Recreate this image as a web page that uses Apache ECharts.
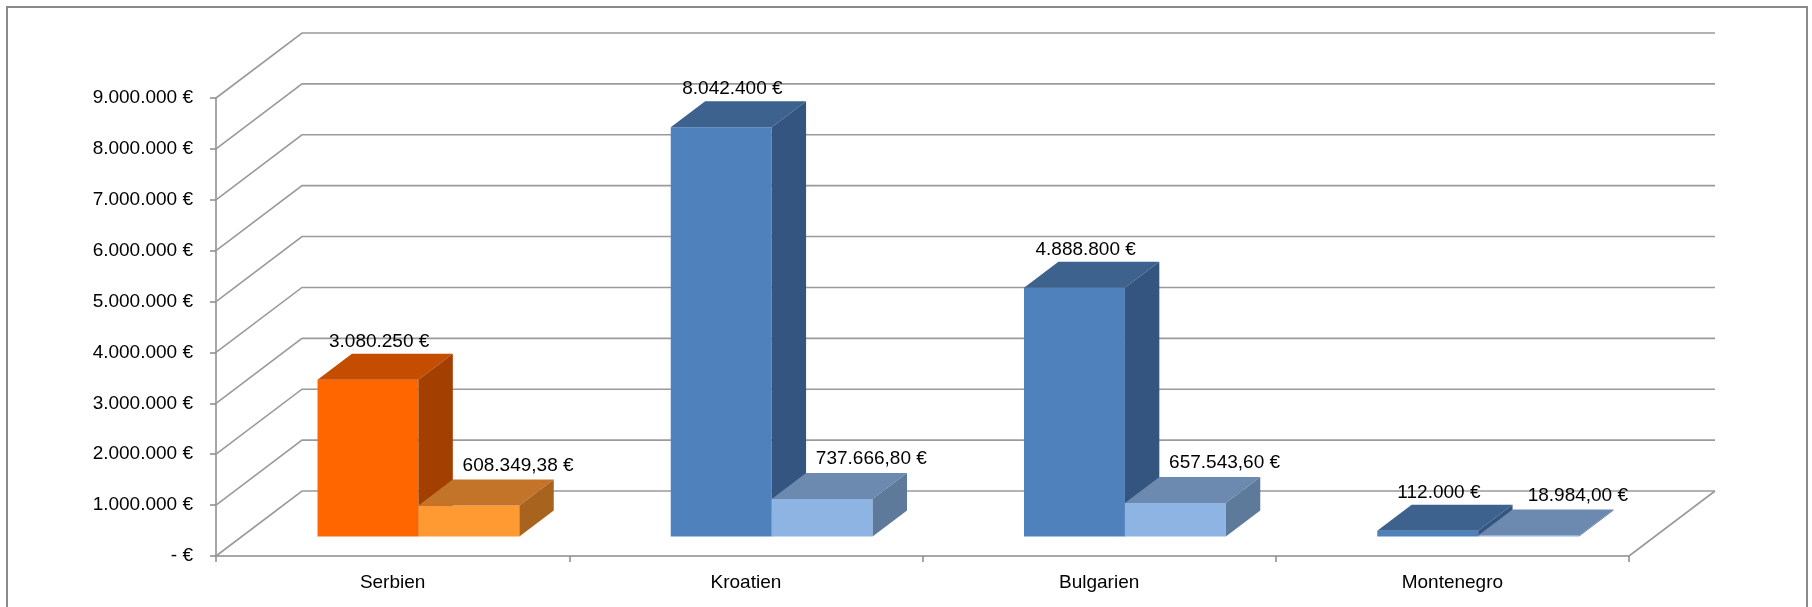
<!DOCTYPE html>
<html>
<head>
<meta charset="utf-8">
<script src="https://cdn.jsdelivr.net/npm/echarts@6/dist/echarts.min.js"></script>
<style>
  html, body { margin: 0; padding: 0; background: #fff; }
  #wrap { position: relative; width: 1812px; height: 607px; overflow: hidden; }
  #chart { position: absolute; left: 0; top: 0; width: 1812px; height: 607px; }
  #frame { position: absolute; left: 6px; top: 6px; width: 1798px; height: 640px;
           border: 2px solid #8a8a8a; pointer-events: none; }
</style>
</head>
<body>
<div id="wrap">
  <div id="chart"></div>
  <div id="frame"></div>
</div>
<script>
// Categories and the two values per country
const categories = ['Serbien', 'Kroatien', 'Bulgarien', 'Montenegro'];
const totalValues = [3080250, 8042400, 4888800, 112000];
const shareValues = [608349.38, 737666.80, 657543.60, 18984.00];

// Value axis ticks and their labels
const yTicks = [0, 1000000, 2000000, 3000000, 4000000, 5000000, 6000000, 7000000, 8000000, 9000000];
const yTickLabels = ['- €', '1.000.000 €', '2.000.000 €', '3.000.000 €', '4.000.000 €',
                     '5.000.000 €', '6.000.000 €', '7.000.000 €', '8.000.000 €', '9.000.000 €'];

// Oblique projection: offset of the back wall relative to the front plane (px)
const DEPTH_X = 86;
const DEPTH_Y = 65;
const BAR_FRONT = 0.3;   // bars start at 30% of the floor depth
const BAR_BACK = 0.7;    // and end at 70%

const FONT = '"Liberation Sans", Arial, sans-serif';
const FONT_SIZE = 19;

// Face colours: [front, top, side] for each series
const bluePalette = [
  { front: '#4F81BD', top: '#3D628E', side: '#33557F' },
  { front: '#8DB4E2', top: '#6C8AAF', side: '#5D7A9B' }
];
const orangePalette = [
  { front: '#FF6600', top: '#C44D00', side: '#A33F00' },
  { front: '#FF9A33', top: '#C37428', side: '#A8641F' }
];
const highlightCategory = 'Serbien';

function formatEuro(v, decimals) {
  const fixed = Math.abs(v).toFixed(decimals);
  const parts = fixed.split('.');
  const intPart = parts[0].replace(/\B(?=(\d{3})+(?!\d))/g, '.');
  return intPart + (decimals > 0 ? ',' + parts[1] : '') + ' €';
}

function barRenderer(seriesIdx, decimals, labelShift, labelLift) {
  return function (params, api) {
    const i = api.value(0);
    const v = api.value(1);
    const catW = api.size([1, 0])[0];
    const w = catW / 3.5;
    const base = api.coord([i, 0]);
    const topPt = api.coord([i, v]);
    const cx = base[0];
    const y0 = base[1];
    const yT = topPt[1];
    const L = seriesIdx === 0 ? cx - w : cx;
    const d0x = DEPTH_X * BAR_FRONT, d0y = -DEPTH_Y * BAR_FRONT;
    const d1x = DEPTH_X * BAR_BACK, d1y = -DEPTH_Y * BAR_BACK;
    const pal = (categories[i] === highlightCategory ? orangePalette : bluePalette)[seriesIdx];

    const front = {
      type: 'rect',
      shape: { x: L + d0x, y: yT + d0y, width: w, height: y0 - yT },
      style: { fill: pal.front }
    };
    const top = {
      type: 'polygon',
      shape: { points: [
        [L + d0x, yT + d0y], [L + w + d0x, yT + d0y],
        [L + w + d1x, yT + d1y], [L + d1x, yT + d1y]
      ] },
      style: { fill: pal.top }
    };
    const side = {
      type: 'polygon',
      shape: { points: [
        [L + w + d0x, yT + d0y], [L + w + d1x, yT + d1y],
        [L + w + d1x, y0 + d1y], [L + w + d0x, y0 + d0y]
      ] },
      style: { fill: pal.side }
    };
    const topCenter = L + w / 2 + (d0x + d1x) / 2;
    const label = {
      type: 'text',
      x: topCenter + labelShift,
      y: yT + d1y - labelLift,
      style: {
        text: formatEuro(v, decimals),
        fill: '#000',
        fontSize: FONT_SIZE,
        fontFamily: FONT,
        align: 'center',
        verticalAlign: 'middle',
        textAlign: 'center',
        textVerticalAlign: 'middle'
      }
    };
    return { type: 'group', children: [front, top, side, label] };
  };
}

// Side-wall and back-wall gridlines, plus the right floor edge
function gridRenderer(params, api) {
  const cs = params.coordSys;
  const v = api.value(1);
  const y = api.coord([0, v])[1];
  const style = { stroke: '#9A9A9A', lineWidth: 1.6, fill: null };
  const children = [{
    type: 'polyline',
    shape: { points: [[cs.x, y], [cs.x + DEPTH_X, y - DEPTH_Y], [cs.x + cs.width + DEPTH_X, y - DEPTH_Y]] },
    style: style
  }];
  if (v === 0) {
    children.push({
      type: 'line',
      shape: { x1: cs.x + cs.width, y1: y, x2: cs.x + cs.width + DEPTH_X, y2: y - DEPTH_Y },
      style: style
    });
  }
  return { type: 'group', children: children };
}

const chart = echarts.init(document.getElementById('chart'), null, { renderer: 'canvas' });

chart.setOption({
  animation: false,
  backgroundColor: 'transparent',
  grid: { left: 216, right: 183, top: 98, bottom: 51, containLabel: false },
  xAxis: {
    type: 'category',
    data: categories,
    boundaryGap: true,
    axisLine: { show: true, lineStyle: { color: '#8A8A8A', width: 1.5 } },
    axisTick: { show: true, length: 6, lineStyle: { color: '#8A8A8A', width: 1.5 } },
    axisLabel: { color: '#000', fontSize: FONT_SIZE, fontFamily: FONT, margin: 17 },
    splitLine: { show: false }
  },
  yAxis: {
    type: 'value',
    min: 0,
    max: 9000000,
    interval: 1000000,
    axisLine: { show: true, lineStyle: { color: '#8A8A8A', width: 1.5 } },
    axisTick: { show: true, length: 6, lineStyle: { color: '#8A8A8A', width: 1.5 } },
    axisLabel: {
      color: '#000', fontSize: FONT_SIZE, fontFamily: FONT, margin: 23,
      formatter: function (v) { return yTickLabels[yTicks.indexOf(v)]; }
    },
    splitLine: { show: false }
  },
  series: [
    {
      type: 'custom',
      name: 'grid',
      clip: false,
      silent: true,
      z: 1,
      renderItem: gridRenderer,
      data: yTicks.map(function (t) { return [0, t]; })
    },
    {
      type: 'custom',
      name: 'gesamt',
      clip: false,
      z: 2,
      renderItem: barRenderer(0, 0, -6, 12),
      data: totalValues.map(function (v, i) { return [i, v]; })
    },
    {
      type: 'custom',
      name: 'anteil',
      clip: false,
      z: 3,
      renderItem: barRenderer(1, 2, 32, 14),
      data: shareValues.map(function (v, i) { return [i, v]; })
    }
  ]
});
</script>
</body>
</html>
